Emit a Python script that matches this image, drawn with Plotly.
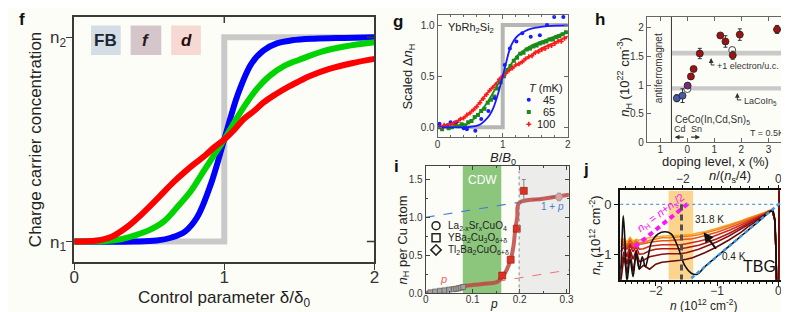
import plotly.graph_objects as go

W, H = 789, 312
BG = '#fdfdf8'
FONT = 'Arial, "Liberation Sans", Helvetica, sans-serif'
TXT = '#222222'

# ---------------- panel f : model curves ----------------
f_step_x = [0, 1, 1, 2]
f_step_y = [0, 0, 1, 1]
f_blue_x = [0, 0.4, 0.55, 0.65, 0.74, 0.82, 0.91, 1.0, 1.09, 1.18, 1.26, 1.35, 1.45, 1.6, 1.8, 2.0]
f_blue_y = [0, 0, 0.005, 0.02, 0.05, 0.12, 0.28, 0.5, 0.72, 0.87, 0.935, 0.97, 0.985, 0.993, 0.997, 1.0]
f_green_x = [0, 0.2, 0.3, 0.4, 0.5, 0.6, 0.7, 0.78, 0.85, 0.92, 1.0, 1.08, 1.15, 1.22, 1.3, 1.4, 1.5, 1.65, 1.8, 2.0]
f_green_y = [0, 0.002, 0.01, 0.03, 0.056, 0.1, 0.18, 0.25, 0.33, 0.41, 0.5, 0.6, 0.68, 0.75, 0.81, 0.86, 0.89, 0.93, 0.955, 0.976]
f_red_x = [0, 0.15, 0.25, 0.35, 0.43, 0.5, 0.58, 0.66, 0.735, 0.8, 0.87, 0.93, 1.0, 1.07, 1.13, 1.2, 1.26,
           1.34, 1.42, 1.5, 1.57, 1.7, 1.85, 2.0]
f_red_y = [0, 0.005, 0.024, 0.07, 0.12, 0.17, 0.23, 0.29, 0.34, 0.38, 0.42, 0.46, 0.5, 0.55, 0.6, 0.64, 0.68,
           0.72, 0.755, 0.785, 0.81, 0.845, 0.873, 0.894]
f_ticks = [0, 1, 2]
f_yticks = [0, 1]
f_ylabels = ['n<sub>1</sub>', 'n<sub>2</sub>']

# ---------------- panel g : YbRh2Si2 ----------------
g_step_x = [0.45, 1, 1, 2]
g_step_y = [0, 0, 1, 1]
g_blue_px = [0.03, 0.15, 0.2, 0.28, 0.4, 0.45, 0.58, 0.67, 0.78, 0.88, 0.96, 1.03, 1.11, 1.21, 1.30, 1.43, 1.57,
             1.68, 1.79, 1.93]
g_blue_py = [0.035, 0.02, 0.05, 0.05, -0.01, -0.02, -0.035, 0.08, 0.16, 0.285, 0.44, 0.61, 0.77, 0.84, 0.92, 0.885,
             0.90, 1.0, 1.08, 1.08]
g_green_px = [0.02, 0.07, 0.12, 0.17, 0.22, 0.27, 0.32, 0.37, 0.42, 0.47, 0.52, 0.57, 0.62, 0.67, 0.72, 0.77, 0.82,
              0.87, 0.92, 0.97, 1.02, 1.07, 1.12, 1.17, 1.22, 1.27, 1.32, 1.37, 1.42, 1.47, 1.52, 1.57, 1.62, 1.67,
              1.72, 1.77, 1.82, 1.87, 1.92, 1.97]
g_green_py = [0.0, -0.02, 0.01, -0.01, 0.0, 0.02, 0.01, 0.03, 0.02, 0.05, 0.06, 0.10, 0.12, 0.16, 0.18, 0.24, 0.27,
              0.30, 0.38, 0.44, 0.50, 0.56, 0.60, 0.65, 0.68, 0.72, 0.73, 0.76, 0.77, 0.79, 0.80, 0.82, 0.83, 0.84,
              0.86, 0.86, 0.88, 0.89, 0.91, 0.93]
g_red_px = [0.0, 0.05, 0.1, 0.15, 0.2, 0.25, 0.3, 0.35, 0.4, 0.45, 0.5, 0.55, 0.6, 0.65, 0.7, 0.75, 0.8, 0.85, 0.9,
            0.95, 1.0, 1.05, 1.1, 1.15, 1.2, 1.25, 1.3, 1.35, 1.4, 1.45, 1.5, 1.55, 1.6, 1.65, 1.7, 1.75, 1.8, 1.85,
            1.9, 1.95]
g_red_py = [0.01, 0.0, 0.02, 0.01, 0.03, 0.04, 0.05, 0.08, 0.09, 0.12, 0.14, 0.17, 0.20, 0.24, 0.28, 0.32, 0.36,
            0.39, 0.42, 0.47, 0.50, 0.53, 0.56, 0.58, 0.61, 0.62, 0.64, 0.67, 0.69, 0.70, 0.73, 0.74, 0.76, 0.77,
            0.79, 0.80, 0.82, 0.84, 0.84, 0.87]
g_blue_fx = [0, 0.45, 0.58, 0.66, 0.73, 0.8, 0.86, 0.93, 1.0, 1.06, 1.11, 1.17, 1.24, 1.34, 1.44, 1.69, 2.0]
g_blue_fy = [0, 0, 0.01, 0.03, 0.067, 0.12, 0.195, 0.33, 0.5, 0.65, 0.77, 0.85, 0.90, 0.94, 0.965, 0.99, 0.997]
g_green_fx = [0, 0.3, 0.45, 0.6, 0.76, 0.91, 1.0, 1.12, 1.24, 1.36, 1.44, 1.6, 1.8, 2.0]
g_green_fy = [0, 0.005, 0.03, 0.11, 0.24, 0.40, 0.5, 0.61, 0.71, 0.77, 0.80, 0.84, 0.89, 0.93]
g_red_fx = [0, 0.13, 0.33, 0.53, 0.73, 0.87, 1.0, 1.15, 1.29, 1.45, 1.59, 1.8, 2.0]
g_red_fy = [0, 0.02, 0.067, 0.16, 0.31, 0.41, 0.5, 0.58, 0.64, 0.71, 0.77, 0.83, 0.89]
g_temps = ['45', '65', '100']
g_leg_y = [0.27, 0.15, 0.03]

# ---------------- panel h : CeCo(In,Cd,Sn)5 ----------------
h_red_x = [0.13, 0.23, 0.46, 1.22, 1.41, 1.68, 1.94, 3.32]
h_red_y = [1.15, 1.28, 1.55, 1.865, 1.76, 1.52, 1.88, 1.97]
h_red_ey = [0.05, 0.03, 0.09, 0.03, 0.1, 0.07, 0.1, 0.07]
h_red_ex = [0.05, 0.05, 0.08, 0.1, 0.08, 0.05, 0.13, 0.15]
h_blue_x = [-0.39, -0.18]
h_blue_y = [0.77, 0.815]
h_blue_ey = [0.06, 0.12]
h_blue_ex = [0.06, 0.08]
h_purple_x = [0.01]
h_purple_y = [0.99]
h_open_x = [0.0, 1.66]
h_open_y = [0.93, 1.61]
h_open_ey = [0.04, 0.05]
h_ticks = [-1, 0, 1, 2, 3]
h_ticktext = ['1', '0', '1', '2', '3']
h_yticks = [0, 0.5, 1, 1.5, 2]
h_ytext = ['0', '0.5', '1', '1.5', '2']

# ---------------- panel i : cuprates ----------------
i_small_x = [0.01, 0.02, 0.03, 0.04, 0.05, 0.06, 0.065, 0.07, 0.075, 0.08]
i_small_y = [0.01, 0.02, 0.03, 0.035, 0.045, 0.05, 0.055, 0.06, 0.07, 0.08]
i_sq_x = [0.163, 0.181, 0.194, 0.209]
i_sq_y = [0.23, 0.44, 0.85, 1.35]
i_sq_e = [0.02, 0.03, 0.03, 0.15]
i_circ_x = [0.284]
i_circ_y = [1.27]
i_circ_e = [0.05]
i_curve_x = [0, 0.04, 0.08, 0.12, 0.153, 0.164, 0.172, 0.181, 0.187, 0.191, 0.195, 0.199, 0.25, 0.305]
i_curve_y = [0, 0.04, 0.09, 0.12, 0.15, 0.22, 0.30, 0.44, 0.62, 0.85, 1.0, 1.19, 1.245, 1.30]
i_onep_x = [0, 0.31]
i_onep_y = [1.0, 1.31]
i_p_x = [0, 0.31]
i_p_y = [0.0, 0.31]
i_legend = ['La<sub>2-x</sub>Sr<sub>x</sub>CuO<sub>4</sub>', 'YBa<sub>2</sub>Cu<sub>3</sub>O<sub>6+δ</sub>',
            'Tl<sub>2</sub>Ba<sub>2</sub>CuO<sub>6+δ</sub>']
i_leg_sym = ['circle-open', 'square-open', 'diamond-open']
i_leg_y = [0.89, 0.73, 0.57]
i_xticks = [0, 0.1, 0.2, 0.3]
i_xtext = ['0', '0.1', '0.2', '0.3']
i_yticks = [0, 0.5, 1.0, 1.5]
i_ytext = ['0.0', '0.5', '1.0', '1.5']

# ---------------- panel j : TBG ----------------
j_black_n = [-2.58, -2.55, -2.53, -2.5, -2.47, -2.42, -2.37, -2.32, -2.27, -2.22, -2.17, -2.12, -2.07, -1.96, -1.85,
             -1.75, -1.64, -1.53, -1.42, -1.32, -1.2, -1.0, -0.7, -0.4, -0.2, -0.13, -0.09, -0.06, -0.04, -0.03]
j_black_y = [-1.55, -0.7, -0.23, -0.8, -1.55, -1.1, -1.45, -0.95, -1.3, -1.05, -1.25, -1.02, -0.76, -0.59, -0.55,
             -0.59, -0.85, -1.22, -1.38, -1.40, -1.25, -1.04, -0.73, -0.42, -0.21, -0.14, -0.13, -0.3, -0.9, -1.6]
j_n = [-2.57, -2.52, -2.47, -2.42, -2.37, -2.32, -2.27, -2.2, -2.1, -2.0, -1.9, -1.8, -1.7, -1.6, -1.5, -1.4, -1.3,
       -1.2, -1.0, -0.8, -0.6, -0.5, -0.4, -0.25, -0.15, -0.1, -0.06, -0.04, -0.03, 0.005, 0.012]
j_c1 = [-1.55, -1.05, -1.4, -0.95, -1.35, -1.0, -1.3, -1.22, -1.3, -1.2, -1.16, -1.15, -1.14, -1.12, -1.1, -1.07,
        -1.02, -0.97, -0.85, -0.71, -0.55, -0.45, -0.37, -0.24, -0.15, -0.13, -0.3, -0.9, -1.6, -1.6, 0.35]
j_c2 = [-1.3, -0.95, -1.2, -0.9, -1.1, -0.92, -1.15, -1.12, -1.05, -1.02, -1.0, -0.99, -0.99, -0.99, -0.97, -0.94,
        -0.9, -0.85, -0.75, -0.63, -0.49, -0.41, -0.34, -0.23, -0.15, -0.13, -0.3, -0.9, -1.6, -1.6, 0.35]
j_c3 = [-0.95, -0.85, -1.05, -0.82, -0.95, -0.85, -1.0, -0.99, -0.93, -0.9, -0.89, -0.89, -0.89, -0.89, -0.87, -0.85,
        -0.82, -0.78, -0.69, -0.58, -0.45, -0.38, -0.32, -0.22, -0.14, -0.12, -0.3, -0.9, -1.6, -1.6, 0.35]
j_c4 = [-0.85, -0.8, -0.9, -0.78, -0.88, -0.8, -0.9, -0.89, -0.84, -0.82, -0.81, -0.81, -0.81, -0.81, -0.79, -0.77,
        -0.74, -0.71, -0.62, -0.52, -0.41, -0.35, -0.3, -0.21, -0.14, -0.12, -0.3, -0.9, -1.6, -1.6, 0.35]
j_c5 = [-0.8, -0.75, -0.85, -0.72, -0.82, -0.76, -0.8, -0.79, -0.76, -0.74, -0.73, -0.73, -0.72, -0.72, -0.71, -0.69,
        -0.66, -0.63, -0.56, -0.47, -0.37, -0.32, -0.27, -0.2, -0.13, -0.12, -0.3, -0.9, -1.6, -1.6, 0.35]
j_c6 = [-0.75, -0.7, -0.82, -0.7, -0.78, -0.72, -0.77, -0.76, -0.72, -0.69, -0.67, -0.67, -0.66, -0.66, -0.65, -0.63,
        -0.61, -0.58, -0.51, -0.43, -0.34, -0.3, -0.25, -0.19, -0.13, -0.11, -0.3, -0.9, -1.6, -1.6, 0.35]
j_c7 = [-0.72, -0.68, -0.76, -0.66, -0.74, -0.7, -0.72, -0.69, -0.67, -0.65, -0.64, -0.63, -0.63, -0.62, -0.61, -0.6,
        -0.57, -0.55, -0.48, -0.41, -0.33, -0.28, -0.24, -0.18, -0.12, -0.11, -0.3, -0.9, -1.6, -1.6, 0.35]
j_curves = [j_c7, j_c6, j_c5, j_c4, j_c3, j_c2, j_c1]
j_colors = ['#f8aa2a', '#f27c1a', '#e2521c', '#cc2c1c', '#b01818', '#8e1010', '#6b0a0a']
j_line_n = [-1.42, 0.04]
j_line_y = [-1.48, 0.04]
j_mag_n = [-2.34, -1.45]
j_mag_y = [-0.85, 0.04]
j_xticks = [-2, -1, 0]
j_yticks = [0, -1]
j_top_ticks = [-2, 0]

# ---------------- layout helpers (pixel boxes) ----------------
def dom_x(a, b):
    return [a / W, b / W]

def dom_y(top, bottom):
    return [1 - bottom / H, 1 - top / H]

def px(x):
    return x / W

def py(y):
    return 1 - y / H

fig = go.Figure()

# f traces
fig.add_trace(go.Scatter(x=f_step_x, y=f_step_y, mode='lines', line=dict(color='#c9c9c9', width=6),
                         xaxis='x', yaxis='y', hoverinfo='skip'))
for xs, ys, c in [(f_blue_x, f_blue_y, '#0000ff'), (f_green_x, f_green_y, '#00d400'), (f_red_x, f_red_y, '#ff0000')]:
    fig.add_trace(go.Scatter(x=xs, y=ys, mode='lines', line=dict(color=c, width=6, shape='spline'),
                             xaxis='x', yaxis='y'))

# g traces
fig.add_trace(go.Scatter(x=g_step_x, y=g_step_y, mode='lines', line=dict(color='#b5b5b5', width=4),
                         xaxis='x2', yaxis='y2'))
for xs, ys, c, sym in [(g_green_px, g_green_py, '#1a8a1a', 'square'), (g_red_px, g_red_py, '#ff1a1a', 'cross'),
                       (g_blue_px, g_blue_py, '#1a1aff', 'circle')]:
    fig.add_trace(go.Scatter(x=xs, y=ys, mode='markers', marker=dict(color=c, size=4, symbol=sym),
                             xaxis='x2', yaxis='y2'))
for xs, ys, c in [(g_green_fx, g_green_fy, '#1a8a1a'), (g_red_fx, g_red_fy, '#ff1a1a'),
                  (g_blue_fx, g_blue_fy, '#1a1aff')]:
    fig.add_trace(go.Scatter(x=xs, y=ys, mode='lines', line=dict(color=c, width=1.8, shape='spline'),
                             xaxis='x2', yaxis='y2'))
fig.add_trace(go.Scatter(x=[1.40] * 3, y=g_leg_y, mode='markers',
                         marker=dict(color=['#1a1aff', '#1a8a1a', '#ff1a1a'], size=4,
                                     symbol=['circle', 'square', 'cross']),
                         xaxis='x2', yaxis='y2'))

# h traces
fig.add_trace(go.Scatter(x=h_blue_x, y=h_blue_y, mode='markers',
                         error_y=dict(type='data', array=h_blue_ey, color='#333', thickness=1, width=2),
                         error_x=dict(type='data', array=h_blue_ex, color='#333', thickness=1, width=0),
                         marker=dict(color='#4a58a8', size=7, line=dict(color='#222', width=0.8)),
                         xaxis='x3', yaxis='y3'))
fig.add_trace(go.Scatter(x=h_open_x, y=h_open_y, mode='markers',
                         error_y=dict(type='data', array=h_open_ey, color='#333', thickness=1, width=2),
                         marker=dict(color='#ffffff', size=7, line=dict(color='#222', width=0.8)),
                         xaxis='x3', yaxis='y3'))
fig.add_trace(go.Scatter(x=h_purple_x, y=h_purple_y, mode='markers',
                         error_y=dict(type='data', array=[0.03], color='#333', thickness=1, width=2),
                         marker=dict(color='#7a2a7a', size=7, line=dict(color='#222', width=0.8)),
                         xaxis='x3', yaxis='y3'))
fig.add_trace(go.Scatter(x=h_red_x, y=h_red_y, mode='markers',
                         error_y=dict(type='data', array=h_red_ey, color='#333', thickness=1, width=2),
                         error_x=dict(type='data', array=h_red_ex, color='#333', thickness=1, width=0),
                         marker=dict(color='#a01212', size=7, line=dict(color='#222', width=0.8)),
                         xaxis='x3', yaxis='y3'))

# i traces
fig.add_trace(go.Scatter(x=i_onep_x, y=i_onep_y, mode='lines', line=dict(color='#4a7fd0', width=1.2, dash='dash'),
                         xaxis='x4', yaxis='y4'))
fig.add_trace(go.Scatter(x=i_p_x, y=i_p_y, mode='lines', line=dict(color='#f07070', width=1, dash='dash'),
                         xaxis='x4', yaxis='y4'))
fig.add_trace(go.Scatter(x=i_curve_x, y=i_curve_y, mode='lines',
                         line=dict(color='rgba(190,70,66,0.85)', width=4, shape='spline'),
                         xaxis='x4', yaxis='y4'))
fig.add_trace(go.Scatter(x=i_small_x, y=i_small_y, mode='markers',
                         marker=dict(color='#a0a0a0', size=5, symbol='square', line=dict(color='#555', width=0.6)),
                         xaxis='x4', yaxis='y4'))
fig.add_trace(go.Scatter(x=i_circ_x, y=i_circ_y, mode='markers',
                         error_y=dict(type='data', array=i_circ_e, color='#999', thickness=1, width=2),
                         marker=dict(color='#e0a0a0', size=7, line=dict(color='#999', width=0.8)),
                         xaxis='x4', yaxis='y4'))
fig.add_trace(go.Scatter(x=i_sq_x, y=i_sq_y, mode='markers',
                         error_y=dict(type='data', array=i_sq_e, color='#888', thickness=1, width=2),
                         marker=dict(color='#e03020', size=7, symbol='square', line=dict(color='#802020', width=0.6)),
                         xaxis='x4', yaxis='y4'))
fig.add_trace(go.Scatter(x=[0.022] * 3, y=i_leg_y, mode='markers',
                         marker=dict(color='#222', size=8, symbol=i_leg_sym, line=dict(width=1.5)),
                         xaxis='x4', yaxis='y4'))

# j traces
for ys, c in zip(j_curves, j_colors):
    fig.add_trace(go.Scatter(x=j_n, y=ys, mode='lines', line=dict(color=c, width=1.6),
                             xaxis='x5', yaxis='y5'))
fig.add_trace(go.Scatter(x=j_black_n, y=j_black_y, mode='lines', line=dict(color='#111', width=1.6, shape='spline'),
                         xaxis='x5', yaxis='y5'))
fig.add_trace(go.Scatter(x=j_line_n, y=j_line_y, mode='lines', line=dict(color='#3a96e8', width=2.5, dash='4px,3px'),
                         xaxis='x5', yaxis='y5'))
fig.add_trace(go.Scatter(x=j_mag_n, y=j_mag_y, mode='lines', line=dict(color='#ff10ff', width=4, dash='5px,4px'),
                         xaxis='x5', yaxis='y5'))
fig.add_trace(go.Scatter(x=[-1.0], y=[0.0], mode='markers', marker=dict(opacity=0), xaxis='x6', yaxis='y5',
                         hoverinfo='skip'))

# ---------------- axes ----------------
def ax(domain, rng, tickvals, ticktext=None, size=10, ticks='inside', color='#444', lw=1, anchor=None,
       minor=None, mirror='ticks', ticklen=4, standoff=0):
    d = dict(domain=domain, range=rng, tickvals=tickvals, showgrid=False, zeroline=False, showline=True,
             linecolor=color, linewidth=lw, mirror=mirror, ticks=ticks, ticklen=ticklen, tickcolor=color,
             tickfont=dict(size=size, color='#333', family=FONT), anchor=anchor, ticklabelstandoff=standoff)
    if ticktext is not None:
        d['ticktext'] = ticktext
    if minor is not None:
        d['minor'] = dict(dtick=minor, ticklen=2, ticks=ticks, tickcolor=color)
    return d

fig.update_layout(
    width=W, height=H, margin=dict(l=0, r=0, t=0, b=0),
    paper_bgcolor=BG, plot_bgcolor=BG, showlegend=False,
    font=dict(family=FONT, color=TXT),
    xaxis=ax(dom_x(62, 366), [0, 2], f_ticks, size=17, ticks='outside', color='#3a3a3a', lw=1.5, anchor='y',
             mirror=True, ticklen=6, standoff=-7),
    yaxis=ax(dom_y(9, 259), [-0.1, 1.1], f_yticks, f_ylabels, size=17, ticks='outside', color='#3a3a3a', lw=1.5,
             anchor='x', mirror=True, ticklen=6, standoff=-3),
    xaxis2=ax(dom_x(430, 562), [0, 2], [0, 1, 2], anchor='y2', minor=0.2, color='#666', standoff=-2),
    yaxis2=ax(dom_y(7, 132), [-0.1, 1.1], [0, 0.5, 1], ['0.0', '0.5', '1.0'], anchor='x2', color='#666'),
    xaxis3=ax(dom_x(642, 787), [-1.5, 3.8], h_ticks, h_ticktext, anchor='y3', color='#666', standoff=-2),
    yaxis3=ax(dom_y(9, 137), [0, 2.19], h_yticks, h_ytext, anchor='x3', color='#666'),
    xaxis4=ax(dom_x(418, 563), [0, 0.305], i_xticks, i_xtext, anchor='y4', minor=0.05, color='#444', standoff=-3),
    yaxis4=ax(dom_y(161, 291), [-0.005, 1.68], i_yticks, i_ytext, anchor='x4', minor=0.25, color='#444'),
    xaxis5=ax(dom_x(615, 778), [-2.58, 0.045], j_xticks, size=12, ticks='outside', color='#111', lw=2,
              anchor='y5', minor=0.1, mirror=True, standoff=-5),
    yaxis5=ax(dom_y(186, 277), [-1.51, 0.28], j_yticks, size=13, ticks='outside', color='#111', lw=2,
              anchor='x5', mirror=True),
    xaxis6=dict(domain=dom_x(615, 778), range=[-3.31, 0.058], tickvals=j_top_ticks, overlaying='x5', side='top',
                anchor='y5', showgrid=False, zeroline=False, showline=False, ticks='outside', ticklen=4,
                tickcolor='#111', tickfont=dict(size=12, color='#333', family=FONT), ticklabelstandoff=-2,
                minor=dict(dtick=0.2, ticklen=3, ticks='outside', tickcolor='#111')),
)

shapes = []
# f: inward ticks on top/right, legend boxes
shapes.append(dict(type='line', xref='x', yref='y', x0=1, x1=1, y0=1.1, y1=1.07, line=dict(color='#3a3a3a', width=1.5)))
shapes.append(dict(type='line', xref='x', yref='y', x0=2, x1=1.95, y0=0, y1=0, line=dict(color='#3a3a3a', width=1.5)))
shapes.append(dict(type='line', xref='x', yref='y', x0=2, x1=1.95, y0=1, y1=1, line=dict(color='#3a3a3a', width=1.5)))
box_x = [(0.112, 0.31), (0.376, 0.58), (0.646, 0.844)]
box_c = ['#d4dde6', '#d5c6cb', '#f7d9d4']
for (a, b), c in zip(box_x, box_c):
    shapes.append(dict(type='rect', xref='x', yref='y', x0=a, x1=b, y0=0.913, y1=1.058, fillcolor=c,
                       line=dict(width=0), layer='below'))
# h: AFM boundary and bands
shapes.append(dict(type='rect', xref='x3', yref='y3', x0=-0.59, x1=3.8, y0=1.515, y1=1.6, fillcolor='#c9c9c9',
                   line=dict(width=0), layer='below'))
shapes.append(dict(type='rect', xref='x3', yref='y3', x0=-0.59, x1=3.8, y0=0.905, y1=0.98, fillcolor='#c9c9c9',
                   line=dict(width=0), layer='below'))
shapes.append(dict(type='line', xref='x3', yref='y3', x0=-0.59, x1=-0.59, y0=0, y1=2.19, line=dict(color='#333', width=1)))
shapes.append(dict(type='line', xref='x3', yref='y3', x0=0.88, x1=0.88, y0=1.35, y1=1.40, line=dict(color='#333', width=1)))
shapes.append(dict(type='line', xref='x3', yref='y3', x0=0.88, x1=1.0, y0=1.35, y1=1.35, line=dict(color='#333', width=1)))
shapes.append(dict(type='line', xref='x3', yref='y3', x0=1.85, x1=1.85, y0=0.74, y1=0.79, line=dict(color='#333', width=1)))
shapes.append(dict(type='line', xref='x3', yref='y3', x0=1.85, x1=2.0, y0=0.74, y1=0.74, line=dict(color='#333', width=1)))
# i: CDW band, overdoped region
shapes.append(dict(type='rect', xref='x4', yref='y4', x0=0.079, x1=0.161, y0=-0.005, y1=1.68, fillcolor='#8cc67c',
                   line=dict(width=0), layer='below'))
shapes.append(dict(type='rect', xref='x4', yref='y4', x0=0.199, x1=0.305, y0=-0.005, y1=1.68, fillcolor='#ececea',
                   line=dict(width=0), layer='below'))
shapes.append(dict(type='line', xref='x4', yref='y4', x0=0.199, x1=0.199, y0=-0.005, y1=1.68,
                   line=dict(color='#888', width=1, dash='dot')))
# j: orange band, dashed line, zero line
shapes.append(dict(type='rect', xref='x5', yref='y5', x0=-1.79, x1=-1.39, y0=-1.51, y1=0.28, fillcolor='#fcd48e',
                   line=dict(width=0), layer='below'))
shapes.append(dict(type='line', xref='x5', yref='y5', x0=-2.58, x1=0.045, y0=0, y1=0,
                   line=dict(color='#5c9ad8', width=1.3, dash='dot')))
shapes.append(dict(type='line', xref='x5', yref='y5', x0=-1.58, x1=-1.58, y0=0.0, y1=-1.51,
                   line=dict(color='#505050', width=3, dash='6px,4px')))
fig.update_layout(shapes=shapes)

ann = []
def A(text, x, y, size=12, xref='paper', yref='paper', angle=0, xanchor='center', color=TXT, **kw):
    if xref == 'paper':
        x = px(x)
    if yref == 'paper':
        y = py(y)
    ann.append(dict(text=text, x=x, y=y, xref=xref, yref=yref, showarrow=False, textangle=angle,
                    xanchor=xanchor, yanchor='middle', font=dict(size=size, color=color, family=FONT), **kw))

# panel letters
for t, x, y in [('f', 9, 12), ('g', 390, 14), ('h', 595, 12), ('i', 388, 162), ('j', 580, 165)]:
    A('<b>%s</b>' % t, x, y, size=17, color='#111')

# f texts
A('Charge carrier concentration', 23, 134, size=17, angle=-90)
A('Control parameter δ/δ<sub>0</sub>', 214, 297, size=17)
A('<b>FB</b>', 0.211, 0.985, size=17, xref='x', yref='y', color='#1c2633')
A('<b><i>f</i></b>', 0.478, 0.985, size=17, xref='x', yref='y', color='#2a1a22')
A('<b><i>d</i></b>', 0.745, 0.985, size=17, xref='x', yref='y', color='#2a0a0a')

# g texts
A('Scaled Δ<i>n</i><sub>H</sub>', 401, 70, size=13, angle=-90)
A('<i>B</i>/<i>B</i><sub>0</sub>', 496, 153, size=13)
A('YbRh<sub>2</sub>Si<sub>2</sub>', 0.13, 0.97, size=11, xref='x2', yref='y2', xanchor='left')
A('<i>T</i> (mK)', 1.37, 0.38, size=11, xref='x2', yref='y2', xanchor='left')
for t, yy in zip(g_temps, g_leg_y):
    A(t, 1.84, yy, size=11, xref='x2', yref='y2', xanchor='right')

# h texts
A('<i>n</i><sub>H</sub> (10<sup>22</sup> cm<sup>-3</sup>)', 619, 70, size=13, angle=-90)
A('doping level, x (%)', 712, 156, size=13)
A('antiferromagnet', -1.07, 1.3, size=10, xref='x3', yref='y3', angle=-90, color='#333')
A('+1 electron/u.c.', 1.02, 1.33, size=9, xref='x3', yref='y3', xanchor='left', color='#333')
A('LaCoIn<sub>5</sub>', 2.02, 0.72, size=9, xref='x3', yref='y3', xanchor='left', color='#333')
A('CeCo(In,Cd,Sn)<sub>5</sub>', -0.55, 0.39, size=10, xref='x3', yref='y3', xanchor='left', color='#333')
A('Cd', -0.28, 0.23, size=9, xref='x3', yref='y3', color='#333')
A('Sn', 0.34, 0.23, size=9, xref='x3', yref='y3', color='#333')
A('T = 0.5K', 3.65, 0.16, size=9, xref='x3', yref='y3', xanchor='right', color='#333')
for (hx, hy, tx, ty) in [(0.88, 1.47, 0.88, 1.39), (1.85, 0.86, 1.85, 0.78), (-0.47, 0.09, -0.08, 0.09),
                         (0.47, 0.09, 0.08, 0.09)]:
    ann.append(dict(x=hx, y=hy, ax=tx, ay=ty, xref='x3', yref='y3', axref='x3', ayref='y3', text='',
                    showarrow=True, arrowhead=2, arrowsize=0.8, arrowwidth=1.2, arrowcolor='#333'))

# i texts
A('<i>n</i><sub>H</sub> per Cu atom', 395, 236, size=13, angle=-90)
A('<i>p</i>', 487, 302, size=12)
A('CDW', 0.12, 1.5, size=12, xref='x4', yref='y4', color='#ffffff')
A('<i>p</i>', 0.038, 0.19, size=11, xref='x4', yref='y4', color='#f06060')
A('1 + <i>p</i>', 0.27, 1.15, size=10, xref='x4', yref='y4', color='#4a7fd0')
for t, yy in zip(i_legend, i_leg_y):
    A(t, 0.043, yy, size=10, xref='x4', yref='y4', xanchor='left')

# j texts
A('<i>n</i><sub>H</sub> (10<sup>12</sup> cm<sup>-2</sup>)', 590, 232, size=13, angle=-90)
A('<i>n</i> (10<sup>12</sup> cm<sup>-2</sup>)', 700, 303, size=12)
A('<i>n</i>/(<i>n</i><sub>s</sub>/4)', 726, 172, size=13)
A('31.8 K', -1.13, -0.3, size=10, xref='x5', yref='y5')
A('0.4 K', -0.73, -1.05, size=10, xref='x5', yref='y5')
A('TBG', -0.3, -1.24, size=16, xref='x5', yref='y5', color='#111')
A('<i>n</i><sub>H</sub> = <i>n</i>+<i>n</i><sub>s</sub>/2', -1.91, -0.17, size=11, xref='x5', yref='y5', angle=-37,
  color='#ff10ff')
ann.append(dict(x=-1.22, y=-0.56, ax=-1.0, ay=-0.92, xref='x5', yref='y5', axref='x5', ayref='y5', text='',
                showarrow=True, arrowhead=2, arrowsize=1, arrowwidth=2, arrowcolor='#111'))
fig.update_layout(annotations=ann)

fig.write_html('out.html')
